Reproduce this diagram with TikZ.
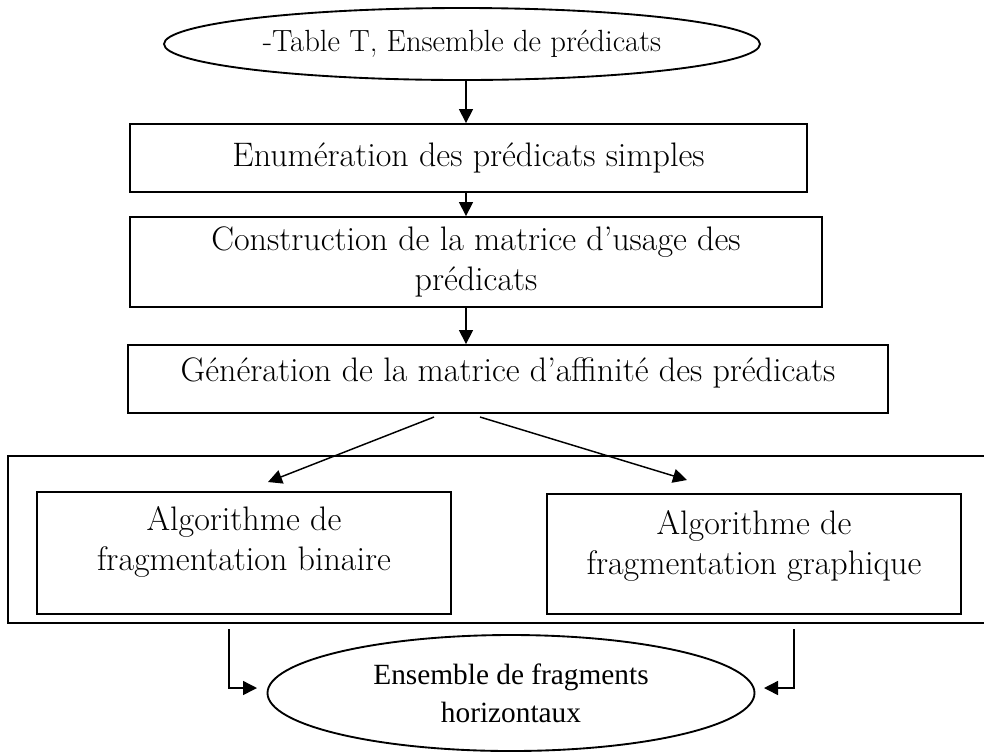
\documentclass[tikz,border=0pt]{standalone}
\usepackage{fontspec}
\newfontfamily\timesfont{Liberation Serif}
\usetikzlibrary{shapes.geometric,arrows.meta}
\begin{document}
\begin{tikzpicture}[x=0.75pt,y=-0.75pt,
  boxfont/.style={font=\fontsize{25.5}{29.5}\selectfont},
  txt/.style={boxfont,align=center,inner sep=0pt},
  stepbox/.style={draw,line width=1.4pt,rectangle,inner sep=0pt,align=center,boxfont},
  oval/.style={draw,line width=1.4pt,ellipse,inner sep=0pt,align=center},
  arr/.style={line width=1.1pt,-{Triangle[length=10.5pt,width=10.5pt]}}]
\useasboundingbox (0,0) rectangle (984,751);

% input
\node[oval,minimum width=447pt,minimum height=54pt,font=\fontsize{23}{29}\selectfont]
  (input) at (462,44) {-Table T, Ensemble de prédicats};

% processing steps
\node[stepbox,minimum width=507.75pt,minimum height=51pt] (enum) at (468.5,158)
  {Enumération des prédicats simples};
\node[stepbox,minimum width=519pt,minimum height=67.5pt] (usage) at (476,262)
  {Construction de la matrice d’usage des\\prédicats};
\node[stepbox,minimum width=570pt,minimum height=51pt] (affin) at (508,379) {};
\node[txt] (affinT) at (508,373) {Génération de la matrice d’affinité des prédicats};

% the two fragmentation algorithms
\draw[line width=1.4pt] (8,456) rectangle (995,623);
\node[stepbox,minimum width=310.5pt,minimum height=91.5pt] (bin) at (244,553) {};
\node[txt] (binT) at (244,542) {Algorithme de\\fragmentation binaire};
\node[stepbox,minimum width=310.5pt,minimum height=90pt] (gra) at (754,554) {};
\node[txt] (graT) at (754,546) {Algorithme de\\fragmentation graphique};

% output
\node[oval,minimum width=365.25pt,minimum height=87pt,
  font=\timesfont\fontsize{22}{28.5}\selectfont]
  (out) at (511,693) {Ensemble de fragments\\horizontaux};

% connectors
\coordinate (spine) at (466,0);
\draw[arr] (input.south -| spine) -- (enum.north -| spine);
\draw[arr] (enum.south -| spine) -- (usage.north -| spine);
\draw[arr] (usage.south -| spine) -- (affin.north -| spine);

\coordinate (aL) at (434,417);
\coordinate (aR) at (480,417);
\coordinate (tL) at (268,482);
\coordinate (tR) at (687,480);
\draw[arr] (aL) -- (tL);
\draw[arr] (aR) -- (tR);

\coordinate (bL) at (229,629);
\coordinate (bR) at (794,629);
\coordinate (eL) at (257,688);
\coordinate (eR) at (764,688);
\draw[arr] (bL) |- (eL);
\draw[arr] (bR) |- (eR);
\end{tikzpicture}
\end{document}
